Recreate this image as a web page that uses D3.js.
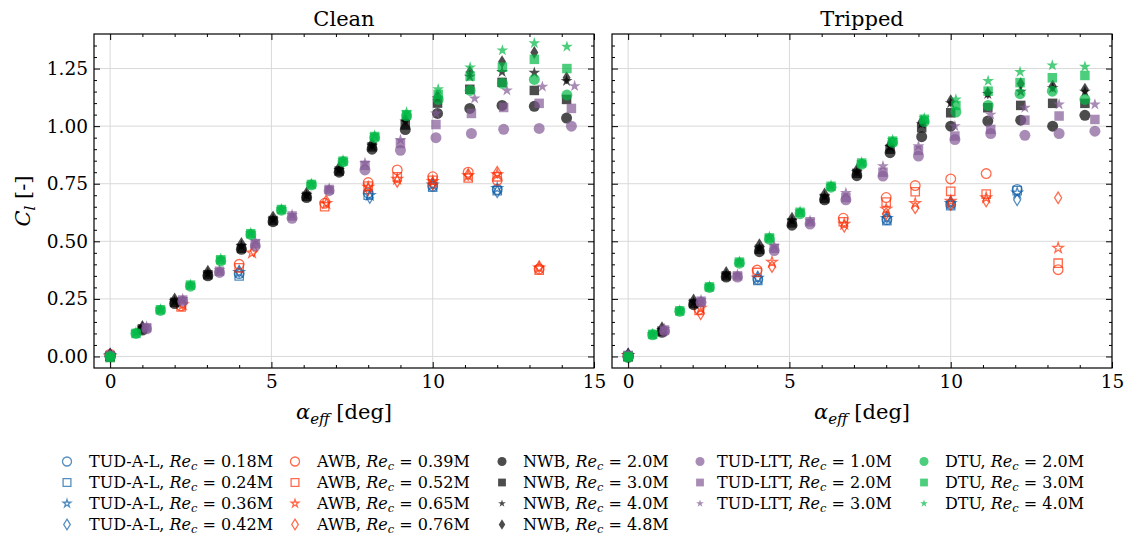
<!DOCTYPE html>
<html><head><meta charset="utf-8">
<script src="https://cdn.jsdelivr.net/npm/d3@7"></script>
<style>
body{margin:0;background:#fff;}
text{font-family:"DejaVu Serif",serif;fill:#000;}
</style></head>
<body>
<script>
// ---------------- DATA ([alpha_eff, Cl]) ----------------
// Clean
const c_tudal_018 = [[0,0.0],[4.0,0.36],[8.0,0.71],[10.0,0.74],[12.0,0.725]];
const c_tudal_024 = [[0,0.0],[4.0,0.35],[8.0,0.70],[10.0,0.735],[12.0,0.72]];
const c_tudal_036 = [[0,0.005],[4.0,0.365],[8.05,0.70],[10.0,0.745],[12.0,0.73]];
const c_tudal_042 = [[0,0.01],[4.0,0.37],[8.05,0.69],[10.0,0.75],[12.0,0.715]];

const c_awb_039 = [[0,0.01],[2.2,0.22],[4.0,0.40],[6.65,0.665],[8.0,0.755],[8.9,0.81],[10.0,0.78],[11.1,0.80],[12.0,0.765],[13.3,0.38]];
const c_awb_052 = [[0,0.0],[2.2,0.215],[4.0,0.385],[6.65,0.65],[8.0,0.74],[8.9,0.78],[10.0,0.765],[11.1,0.775],[12.0,0.78],[13.3,0.375]];
const c_awb_065 = [[0,0.0],[2.25,0.225],[4.4,0.45],[6.7,0.665],[8.0,0.735],[8.9,0.77],[10.0,0.76],[11.1,0.785],[12.0,0.79],[13.3,0.385]];
const c_awb_076 = [[0,0.005],[2.25,0.23],[4.45,0.46],[6.7,0.675],[8.0,0.725],[8.9,0.76],[10.0,0.75],[11.1,0.79],[12.0,0.80],[13.3,0.39]];

const c_nwb_20 = [[0,0.0],[1.0,0.115],[2.0,0.23],[3.03,0.35],[4.07,0.465],[5.05,0.585],[6.09,0.69],[7.1,0.80],[8.12,0.90],[9.15,0.985],[10.15,1.055],[11.15,1.077],[12.15,1.09],[13.15,1.086],[14.15,1.035]];
const c_nwb_30 = [[0,0.0],[1.0,0.12],[2.0,0.235],[3.03,0.355],[4.07,0.47],[5.05,0.59],[6.09,0.695],[7.1,0.805],[8.12,0.91],[9.15,1.005],[10.15,1.10],[11.15,1.16],[12.15,1.19],[13.15,1.155],[14.15,1.116]];
const c_nwb_40 = [[0,0.005],[1.0,0.125],[2.0,0.24],[3.03,0.36],[4.07,0.48],[5.05,0.595],[6.09,0.70],[7.1,0.81],[8.12,0.915],[9.15,1.02],[10.15,1.12],[11.15,1.215],[12.15,1.235],[13.15,1.232],[14.15,1.196]];
const c_nwb_48 = [[0,0.01],[1.0,0.13],[2.0,0.25],[3.03,0.37],[4.07,0.49],[5.05,0.605],[6.09,0.71],[7.1,0.82],[8.12,0.925],[9.15,1.03],[10.15,1.13],[11.15,1.235],[12.15,1.28],[13.15,1.32],[14.15,1.21]];

const c_ltt_10 = [[0,0.0],[1.13,0.12],[2.25,0.24],[3.39,0.365],[4.5,0.48],[5.64,0.60],[6.79,0.72],[7.9,0.81],[9.0,0.895],[10.1,0.95],[11.2,0.968],[12.2,0.986],[13.3,0.99],[14.3,1.0]];
const c_ltt_20 = [[0,0.005],[1.13,0.125],[2.25,0.245],[3.39,0.37],[4.5,0.49],[5.64,0.61],[6.79,0.725],[7.9,0.83],[9.0,0.925],[10.1,1.007],[11.2,1.055],[12.2,1.081],[13.3,1.099],[14.3,1.077]];
const c_ltt_30 = [[0,0.01],[1.13,0.13],[2.25,0.25],[3.39,0.375],[4.5,0.50],[5.64,0.615],[6.79,0.73],[7.9,0.84],[9.0,0.94],[10.1,1.055],[11.3,1.12],[12.3,1.155],[13.4,1.171],[14.4,1.174]];

const c_dtu_20 = [[0,0.0],[0.8,0.10],[1.56,0.20],[2.49,0.305],[3.43,0.415],[4.36,0.53],[5.31,0.635],[6.24,0.745],[7.22,0.845],[8.2,0.95],[9.19,1.045],[10.17,1.116],[11.16,1.155],[12.16,1.186],[13.15,1.203],[14.16,1.135]];
const c_dtu_30 = [[0,-0.005],[0.8,0.10],[1.56,0.203],[2.49,0.31],[3.43,0.42],[4.36,0.533],[5.31,0.638],[6.24,0.747],[7.22,0.848],[8.2,0.955],[9.19,1.05],[10.17,1.138],[11.16,1.217],[12.16,1.256],[13.15,1.29],[14.16,1.25]];
const c_dtu_40 = [[0,0.0],[0.8,0.105],[1.56,0.205],[2.49,0.312],[3.43,0.425],[4.36,0.536],[5.31,0.64],[6.24,0.75],[7.22,0.852],[8.2,0.96],[9.19,1.06],[10.17,1.16],[11.16,1.255],[12.16,1.329],[13.15,1.36],[14.16,1.345]];

// Tripped
const t_tudal_018 = [[0,0.0],[4.02,0.335],[8.02,0.595],[10.0,0.66],[12.06,0.725]];
const t_tudal_024 = [[0,0.0],[4.02,0.33],[8.02,0.59],[10.0,0.655],[12.06,0.72]];
const t_tudal_036 = [[0,0.005],[4.02,0.34],[8.02,0.60],[10.0,0.665],[12.06,0.71]];
const t_tudal_042 = [[0,0.01],[4.02,0.345],[8.02,0.605],[10.0,0.67],[12.06,0.68]];

const t_awb_039 = [[0,0.0],[2.2,0.205],[4.0,0.375],[6.67,0.60],[8.0,0.69],[8.9,0.742],[10.0,0.771],[11.1,0.794],[13.33,0.377]];
const t_awb_052 = [[0,0.0],[2.2,0.20],[4.0,0.365],[6.67,0.585],[8.0,0.67],[8.9,0.715],[10.0,0.717],[11.1,0.705],[13.33,0.405]];
const t_awb_065 = [[0,0.005],[2.25,0.21],[4.46,0.41],[6.7,0.575],[8.0,0.64],[8.9,0.665],[10.0,0.675],[11.1,0.69],[13.33,0.471]];
const t_awb_076 = [[0,0.0],[2.25,0.185],[4.46,0.39],[6.7,0.565],[8.0,0.62],[8.9,0.645],[10.0,0.66],[11.1,0.675],[13.33,0.689]];

const t_nwb_20 = [[0,0.0],[1.05,0.105],[2.03,0.225],[3.04,0.345],[4.07,0.455],[5.08,0.57],[6.09,0.68],[7.09,0.785],[8.12,0.885],[9.1,0.954],[10.0,1.0],[11.15,1.022],[12.17,1.026],[13.16,1.0],[14.16,1.047]];
const t_nwb_30 = [[0,0.0],[1.05,0.11],[2.03,0.23],[3.04,0.35],[4.07,0.465],[5.08,0.58],[6.09,0.686],[7.09,0.795],[8.12,0.90],[9.1,0.993],[10.0,1.058],[11.15,1.08],[12.17,1.09],[13.16,1.099],[14.16,1.099]];
const t_nwb_40 = [[0,0.005],[1.05,0.115],[2.03,0.235],[3.04,0.355],[4.07,0.47],[5.08,0.59],[6.09,0.695],[7.09,0.80],[8.12,0.91],[9.1,1.01],[10.0,1.10],[11.15,1.14],[12.17,1.15],[13.16,1.165],[14.16,1.15]];
const t_nwb_48 = [[0,0.01],[1.05,0.125],[2.03,0.245],[3.04,0.365],[4.07,0.485],[5.08,0.60],[6.09,0.705],[7.09,0.81],[8.12,0.92],[9.1,1.02],[10.0,1.11],[11.15,1.145],[12.17,1.184],[13.16,1.174],[14.16,1.16]];

const t_ltt_10 = [[0,0.0],[1.13,0.11],[2.26,0.235],[3.39,0.345],[4.53,0.46],[5.64,0.575],[6.75,0.68],[7.9,0.783],[9.0,0.87],[10.13,0.942],[11.24,0.968],[12.3,0.96],[13.36,0.968],[14.47,0.978]];
const t_ltt_20 = [[0,0.005],[1.13,0.115],[2.26,0.24],[3.39,0.35],[4.53,0.47],[5.64,0.585],[6.75,0.69],[7.9,0.80],[9.0,0.895],[10.13,0.957],[11.24,0.986],[12.3,1.026],[13.36,1.044],[14.47,1.029]];
const t_ltt_30 = [[0,0.01],[1.13,0.12],[2.26,0.245],[3.39,0.355],[4.53,0.48],[5.64,0.59],[6.75,0.71],[7.9,0.826],[9.0,0.913],[10.13,1.0],[11.24,1.05],[12.3,1.08],[13.36,1.094],[14.47,1.094]];

const t_dtu_20 = [[0,-0.005],[0.76,0.094],[1.6,0.196],[2.52,0.30],[3.45,0.405],[4.38,0.51],[5.33,0.62],[6.29,0.735],[7.24,0.835],[8.2,0.93],[9.18,1.02],[10.16,1.061],[11.16,1.09],[12.15,1.141],[13.15,1.152],[14.16,1.116]];
const t_dtu_30 = [[0,0.0],[0.76,0.096],[1.6,0.198],[2.52,0.302],[3.45,0.41],[4.38,0.515],[5.33,0.626],[6.29,0.739],[7.24,0.84],[8.2,0.935],[9.18,1.03],[10.16,1.09],[11.16,1.152],[12.15,1.189],[13.15,1.21],[14.16,1.22]];
const t_dtu_40 = [[0,0.0],[0.76,0.098],[1.6,0.2],[2.52,0.305],[3.45,0.413],[4.38,0.52],[5.33,0.63],[6.29,0.742],[7.24,0.843],[8.2,0.94],[9.18,1.035],[10.16,1.116],[11.16,1.196],[12.15,1.235],[13.15,1.264],[14.16,1.258]];

// Legend / series labels
const facilities = ["TUD-A-L","AWB","NWB","TUD-LTT","DTU"];
const reLabels = [
  ["0.18M","0.24M","0.36M","0.42M"],
  ["0.39M","0.52M","0.65M","0.76M"],
  ["2.0M","3.0M","4.0M","4.8M"],
  ["1.0M","2.0M","3.0M"],
  ["2.0M","3.0M","4.0M"]
];
const panelTitles = ["Clean","Tripped"];
const xMajor = [0,5,10,15];
const yMajor = [0,0.25,0.5,0.75,1.0,1.25];

// ---------------- STYLE ----------------
const facColors = ["#0C5DA5","#FF2C00","#000000","#845B97","#00B945"];
const facFilled = [false,false,true,true,true];
const shapes = [["circle","square","star","diamond"],["circle","square","star","diamond"],["circle","square","star","diamond"],["circle","square","star"],["circle","square","star"]];

const cleanData = [[c_tudal_018,c_tudal_024,c_tudal_036,c_tudal_042],[c_awb_039,c_awb_052,c_awb_065,c_awb_076],[c_nwb_20,c_nwb_30,c_nwb_40,c_nwb_48],[c_ltt_10,c_ltt_20,c_ltt_30],[c_dtu_20,c_dtu_30,c_dtu_40]];
const tripData = [[t_tudal_018,t_tudal_024,t_tudal_036,t_tudal_042],[t_awb_039,t_awb_052,t_awb_065,t_awb_076],[t_nwb_20,t_nwb_30,t_nwb_40,t_nwb_48],[t_ltt_10,t_ltt_20,t_ltt_30],[t_dtu_20,t_dtu_30,t_dtu_40]];

function symPath(shape, scale, starScale){
  const s = scale||1;
  if(shape==="circle") return d3.symbol(d3.symbolCircle, Math.PI*Math.pow(5.5*s,2))();
  if(shape==="square") return d3.symbol(d3.symbolSquare, Math.pow(9.5*s,2))();
  if(shape==="star"){const ss=s*(starScale||1);return d3.symbol(d3.symbolStar, Math.pow(6.2*ss,2)/0.8908)();}
  if(shape==="diamond"){const w=4*s,h=6.5*s;return `M0,${-h}L${w},0L0,${h}L${-w},0Z`;}
}

const W=1127,H=543;
const svg = d3.select("body").append("svg").attr("width",W).attr("height",H);
const TOP=34, BOT=368, PW=500;
const panelsX=[94,612];
const y = d3.scaleLinear().domain([-0.05,1.40]).range([BOT,TOP]);
const fontTick=18.5;

[cleanData,tripData].forEach((pdata,pi)=>{
  const x0=panelsX[pi];
  const x = d3.scaleLinear().domain([-0.5,15]).range([x0,x0+PW]);
  const g = svg.append("g");
  // grid
  g.append("g").selectAll("line").data(xMajor).join("line")
    .attr("x1",d=>x(d)).attr("x2",d=>x(d)).attr("y1",TOP).attr("y2",BOT)
    .attr("stroke","#d9d9d9").attr("stroke-width",1);
  g.append("g").selectAll("line").data(yMajor).join("line")
    .attr("y1",d=>y(d)).attr("y2",d=>y(d)).attr("x1",x0).attr("x2",x0+PW)
    .attr("stroke","#d9d9d9").attr("stroke-width",1);

  // data
  const dg = g.append("g");
  pdata.forEach((fac,fi)=>{
    fac.forEach((ser,si)=>{
      const shp=shapes[fi][si];
      const path=symPath(shp, facFilled[fi]?1:0.88);
      dg.append("g").selectAll("path").data(ser).join("path")
        .attr("d",path)
        .attr("transform",d=>`translate(${x(d[0])},${y(d[1])})`)
        .attr("fill",facFilled[fi]?facColors[fi]:"none")
        .attr("fill-opacity",facFilled[fi]?0.7:0)
        .attr("stroke",facFilled[fi]?"none":facColors[fi])
        .attr("stroke-opacity",0.7)
        .attr("stroke-width",1.3);
    });
  });

  // axes
  const minorX = d3.range(0,16).filter(v=>v%5!==0);
  const minorY = d3.range(1,28).map(v=>+(v*0.05).toFixed(2)).filter(v=>Math.abs(v/0.25-Math.round(v/0.25))>1e-6);
  const ax = (axis, tr)=>{
    const a = g.append("g").attr("transform",tr).call(axis);
    a.select(".domain").remove();
    a.selectAll("line").attr("stroke","#000").attr("stroke-width",1);
    a.selectAll("text").style("font-family","DejaVu Serif").style("font-size",fontTick+"px").attr("fill","#000");
    return a;
  };
  ax(d3.axisBottom(x).tickValues(xMajor).tickSize(-6).tickPadding(7).tickFormat(d3.format("d")),`translate(0,${BOT})`);
  ax(d3.axisBottom(x).tickValues(minorX).tickSize(-3).tickFormat(""),`translate(0,${BOT})`);
  ax(d3.axisTop(x).tickValues(xMajor).tickSize(-6).tickFormat(""),`translate(0,${TOP})`);
  ax(d3.axisTop(x).tickValues(minorX).tickSize(-3).tickFormat(""),`translate(0,${TOP})`);
  ax(d3.axisLeft(y).tickValues(yMajor).tickSize(-6).tickPadding(6).tickFormat(pi===0?d3.format(".2f"):""),`translate(${x0},0)`);
  ax(d3.axisLeft(y).tickValues(minorY).tickSize(-3).tickFormat(""),`translate(${x0},0)`);
  ax(d3.axisRight(y).tickValues(yMajor).tickSize(-6).tickFormat(""),`translate(${x0+PW},0)`);
  ax(d3.axisRight(y).tickValues(minorY).tickSize(-3).tickFormat(""),`translate(${x0+PW},0)`);

  // frame
  g.append("rect").attr("x",x0).attr("y",TOP).attr("width",PW).attr("height",BOT-TOP)
    .attr("fill","none").attr("stroke","#000").attr("stroke-width",1.2);

  // title
  g.append("text").attr("x",x0+PW/2).attr("y",26).attr("text-anchor","middle")
    .style("font-size","21px").text(panelTitles[pi]);
  // x label
  const xl = g.append("text").attr("x",x0+PW/2).attr("y",419).attr("text-anchor","middle").style("font-size","21px");
  xl.append("tspan").style("font-style","italic").text("α");
  xl.append("tspan").style("font-style","italic").style("font-size","15px").attr("dy",5).text("eff");
  xl.append("tspan").attr("dy",-5).text(" [deg]");
});

// y label
const yl = svg.append("text").attr("transform","translate(30,201) rotate(-90)").attr("text-anchor","middle").style("font-size","21px");
yl.append("tspan").style("font-style","italic").text("C");
yl.append("tspan").style("font-style","italic").style("font-size","15px").attr("dy",5).text("l");
yl.append("tspan").attr("dy",-5).text(" [-]");

// legend
const colMarkX=[67,295,502,700,924];
const colTextX=[89,317,523,717,945];
const rowY=[461.5,482.5,503.5,524.5];
facilities.forEach((f,fi)=>{
  reLabels[fi].forEach((re,si)=>{
    const yy=rowY[si];
    svg.append("path").attr("d",symPath(shapes[fi][si],0.82,0.8))
      .attr("transform",`translate(${colMarkX[fi]},${yy})`)
      .attr("fill",facFilled[fi]?facColors[fi]:"none")
      .attr("fill-opacity",facFilled[fi]?0.7:0)
      .attr("stroke",facFilled[fi]?"none":facColors[fi])
      .attr("stroke-opacity",0.7).attr("stroke-width",1.3);
    const t = svg.append("text").attr("x",colTextX[fi]).attr("y",yy).attr("dy","0.36em").style("font-size","16px");
    t.append("tspan").text(f+", ");
    t.append("tspan").style("font-style","italic").text("Re");
    t.append("tspan").style("font-style","italic").style("font-size","11.5px").attr("dy",3).text("c");
    t.append("tspan").attr("dy",-3).text(" = "+re);
  });
});
</script>
</body></html>
